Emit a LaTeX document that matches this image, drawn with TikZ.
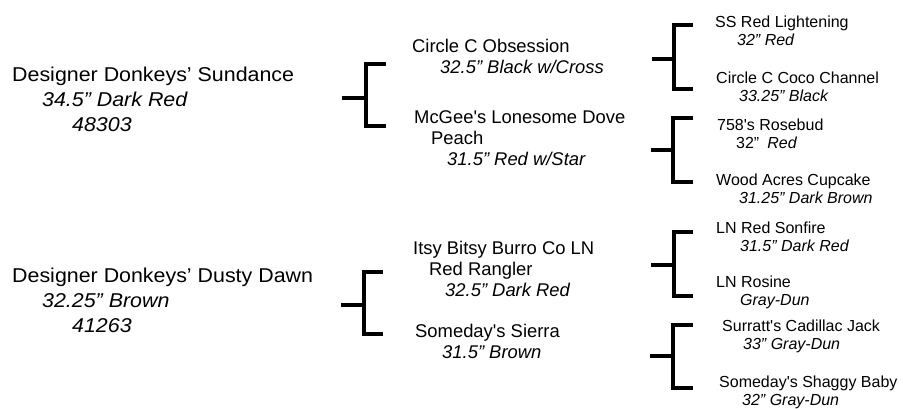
\documentclass[tikz,border=0pt]{standalone}
\usepackage{fontspec}
\setmainfont{Liberation Sans}[Ligatures=TeXOff]
\newfontfamily\widefont{Liberation Sans}[FakeStretch=1.07, Ligatures=TeXOff]
\begin{document}
\begin{tikzpicture}[x=1pt, y=-1pt,
        horse/.style={anchor=north west, inner sep=0pt, align=left},
        sire/.style={horse, font=\widefont\fontsize{20}{25}\selectfont},
        parent/.style={horse, font=\fontsize{18.4}{21}\selectfont},
        grand/.style={horse, font=\fontsize{16}{18}\selectfont},
        bracket/.style={line width=4pt}]
        \useasboundingbox (0,0) rectangle (903,409);

        % Nodes
        \node[sire] (sundance) at (12,66.7) {Designer Donkeys’ Sundance\\\hspace*{30pt}\textit{34.5” Dark Red}\\\hspace*{60pt}\textit{48303}};
        \node[sire] (dawn) at (12,267.7) {Designer Donkeys’ Dusty Dawn\\\hspace*{30pt}\textit{32.25” Brown}\\\hspace*{60pt}\textit{41263}};

        \node[parent] (obsession) at (412,38.8) {Circle C Obsession\\\hspace*{28pt}\textit{32.5” Black w/Cross}};
        \node[parent] (peach) at (414,110.8) {McGee's Lonesome Dove\\\hspace*{17pt}Peach\\\hspace*{33pt}\textit{31.5” Red w/Star}};
        \node[parent] (rangler) at (413,240.8) {Itsy Bitsy Burro Co LN\\\hspace*{16pt}Red Rangler\\\hspace*{32pt}\textit{32.5” Dark Red}};
        \node[parent] (sierra) at (415,323.8) {Someday's Sierra\\\hspace*{27pt}\textit{31.5” Brown}};

        \node[grand] (lightening) at (715,15.5) {SS Red Lightening\\\hspace*{22pt}\textit{32” Red}};
        \node[grand] (coco) at (716,71.5) {Circle C Coco Channel\\\hspace*{23pt}\textit{33.25” Black}};
        \node[grand] (rosebud) at (717,118.5) {758's Rosebud\\\hspace*{19pt}32”\hspace{8pt}\textit{Red}};
        \node[grand] (cupcake) at (716,173.5) {Wood Acres Cupcake\\\hspace*{23pt}\textit{31.25” Dark Brown}};
        \node[grand] (sonfire) at (716,221.5) {LN Red Sonfire\\\hspace*{24pt}\textit{31.5” Dark Red}};
        \node[grand] (rosine) at (716,275.5) {LN Rosine\\\hspace*{24pt}\textit{Gray-Dun}};
        \node[grand] (jack) at (722,319.5) {Surratt's Cadillac Jack\\\hspace*{21pt}\textit{33” Gray-Dun}};
        \node[grand] (baby) at (719,375.5) {Someday's Shaggy Baby\\\hspace*{23pt}\textit{32” Gray-Dun}};

        % Bracket ends
        \coordinate (sundance-stem) at (342,98);
        \coordinate (sundance-fork) at (366,98);
        \coordinate (sundance-up) at (386,64);
        \coordinate (sundance-down) at (386,126.5);
        \coordinate (dawn-stem) at (341,305);
        \coordinate (dawn-fork) at (364,305);
        \coordinate (dawn-up) at (383,272);
        \coordinate (dawn-down) at (383,334);
        \coordinate (obsession-stem) at (652,59);
        \coordinate (obsession-fork) at (674,59);
        \coordinate (obsession-up) at (693,25);
        \coordinate (obsession-down) at (693,89);
        \coordinate (peach-stem) at (651,150);
        \coordinate (peach-fork) at (673,150);
        \coordinate (peach-up) at (693,118);
        \coordinate (peach-down) at (693,182);
        \coordinate (rangler-stem) at (651,265);
        \coordinate (rangler-fork) at (674,265);
        \coordinate (rangler-up) at (693,232);
        \coordinate (rangler-down) at (693,296);
        \coordinate (sierra-stem) at (650,356);
        \coordinate (sierra-fork) at (673,356);
        \coordinate (sierra-up) at (693,325);
        \coordinate (sierra-down) at (693,387.5);

        % Brackets
        \draw[bracket] (sundance-stem) -- (sundance-fork);
        \draw[bracket] (sundance-up) -| (sundance-fork) |- (sundance-down);
        \draw[bracket] (dawn-stem) -- (dawn-fork);
        \draw[bracket] (dawn-up) -| (dawn-fork) |- (dawn-down);
        \draw[bracket] (obsession-stem) -- (obsession-fork);
        \draw[bracket] (obsession-up) -| (obsession-fork) |- (obsession-down);
        \draw[bracket] (peach-stem) -- (peach-fork);
        \draw[bracket] (peach-up) -| (peach-fork) |- (peach-down);
        \draw[bracket] (rangler-stem) -- (rangler-fork);
        \draw[bracket] (rangler-up) -| (rangler-fork) |- (rangler-down);
        \draw[bracket] (sierra-stem) -- (sierra-fork);
        \draw[bracket] (sierra-up) -| (sierra-fork) |- (sierra-down);
    \end{tikzpicture}
\end{document}
